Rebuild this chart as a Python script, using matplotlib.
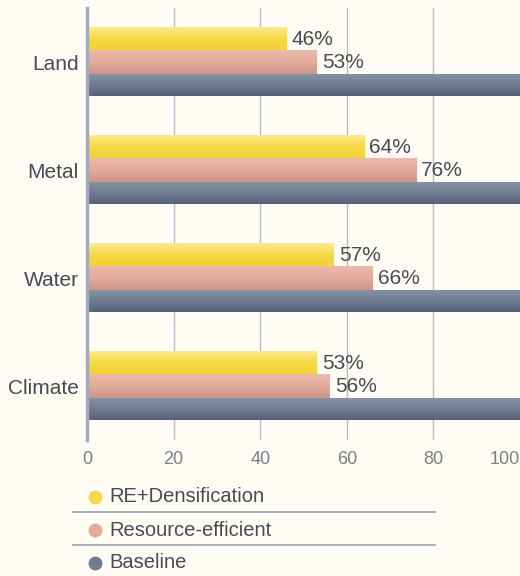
import matplotlib.pyplot as plt
import numpy as np
from matplotlib.lines import Line2D
from matplotlib.colors import LinearSegmentedColormap

plt.rcParams["font.family"] = ["Liberation Sans", "DejaVu Sans"]

categories = ["Land", "Metal", "Water", "Climate"]
re_dens = [46, 64, 57, 53]
res_eff = [53, 76, 66, 56]
baseline = [100, 100, 100, 100]
series_names = ["RE+Densification", "Resource-efficient", "Baseline"]
xticks = [0, 20, 40, 60, 80, 100]

bg = "#FEFCF5"
colors = ["#F8D94C", "#DDA898", "#68748A"]
grads = [("#FDEA8C", "#F7D845", "#F3D23A"),
         ("#EDBAAA", "#E2AB9B", "#CC9787"),
         ("#8591A4", "#707C90", "#56627A")]
txt = "#4A4A55"

fig = plt.figure(figsize=(5.2, 5.76), dpi=100, facecolor=bg)
ax = fig.add_axes([87/520, 1-440/576, 1-87/520, 432/576])
ax.set_facecolor(bg)

ypos = np.arange(len(categories))[::-1]
h = 0.213
sets = [
    ax.barh(ypos + h, re_dens, height=h, color=colors[0], zorder=3),
    ax.barh(ypos, res_eff, height=h, color=colors[1], zorder=3),
    ax.barh(ypos - h, baseline, height=0.195, color=colors[2], zorder=3),
]

# soft vertical gradient on every bar
grad = np.linspace(0, 1, 64).reshape(-1, 1)
for bars, stops in zip(sets, grads):
    cmap = LinearSegmentedColormap.from_list("g", list(stops))
    for p in bars:
        x0, y0 = p.get_x(), p.get_y()
        w, hh = p.get_width(), p.get_height()
        ax.imshow(grad, extent=[x0, x0 + w, y0, y0 + hh], origin="upper",
                  aspect="auto", cmap=cmap, zorder=3, interpolation="bilinear")
        p.set_visible(False)

for y, v in zip(ypos, re_dens):
    ax.text(v + 1.2, y + h, f"{v}%", va="center", ha="left", fontsize=15, color=txt, zorder=4)
for y, v in zip(ypos, res_eff):
    ax.text(v + 1.2, y, f"{v}%", va="center", ha="left", fontsize=15, color=txt, zorder=4)

ax.set_xlim(0, 100)
ax.set_ylim(-0.495, 3.505)
ax.set_yticks(ypos)
ax.set_yticklabels(categories, fontsize=15, color=txt)
ax.set_xticks(xticks)
ax.set_xticklabels([str(t) for t in xticks], fontsize=13, color="#7E7E88")
ax.get_xticklabels()[-1].set_ha("right")
ax.tick_params(axis="both", length=0)
ax.tick_params(axis="x", pad=8)
ax.tick_params(axis="y", pad=6)
for t in xticks[1:-1]:
    ax.axvline(t, color="#B8BCC8", linewidth=1, zorder=0)
for s in ["top", "right", "bottom"]:
    ax.spines[s].set_visible(False)
ax.spines["left"].set_color("#A3ABBB")
ax.spines["left"].set_linewidth(2.5)
ax.spines["left"].set_zorder(5)

# legend block
leg_y = [497, 530, 563]
for name, stops, y in zip(series_names, grads, leg_y):
    yf = 1 - y/576
    fig.add_artist(Line2D([95/520], [yf], marker="o", markersize=10, color=stops[1],
                          markeredgewidth=0, linestyle="none"))
    fig.text(109/520, yf, name, fontsize=14.5, color=txt, va="center", ha="left")
for y in [512, 545]:
    yf = 1 - y/576
    fig.add_artist(Line2D([73/520, 435/520], [yf, yf], color="#9AA0AE", linewidth=1.2))

fig.savefig("out.png", dpi=100, facecolor=bg)
